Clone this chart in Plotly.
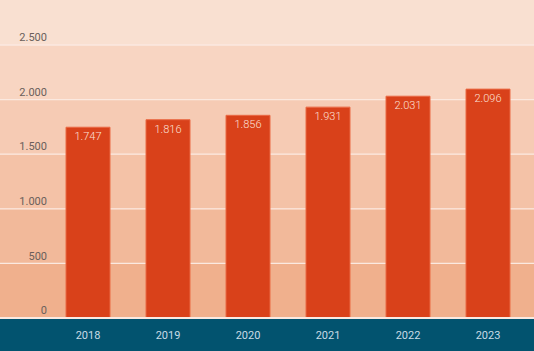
import plotly.graph_objects as go

years = ["2018", "2019", "2020", "2021", "2022", "2023"]
values = [1747, 1816, 1856, 1931, 2031, 2096]
tick_vals = [0, 500, 1000, 1500, 2000, 2500]
tick_text = ["0", "500", "1.000", "1.500", "2.000", "2.500"]
band_edges = [0, 500, 1000, 1500, 2000, 2500, 2912]
band_colors = ["#f0b08d", "#f2b99a", "#f4c2a7", "#f6cbb4", "#f8d5c2", "#f9e0d1"]

W, H = 534, 351
ml, mr, mt, mb = 48, 6, 0, 33
pw = W - ml - mr
x0p = -ml / pw
x1p = 1 + mr / pw

fig = go.Figure()
fig.add_trace(go.Bar(
    x=years, y=values,
    marker=dict(color="#d9411a", line=dict(color="#ea6a45", width=1)),
    width=0.55,
    text=[f"{v:,}".replace(",", ".") for v in values],
    textposition="inside", insidetextanchor="end",
    textfont=dict(family="Roboto", size=11, color="#fbe0d6", weight=300),
    cliponaxis=False,
))

shapes = []
for i, c in enumerate(band_colors):
    shapes.append(dict(type="rect", xref="paper", yref="y", x0=x0p, x1=x1p,
                       y0=band_edges[i], y1=band_edges[i + 1],
                       fillcolor=c, line=dict(width=0), layer="below"))
for t in tick_vals[1:]:
    shapes.append(dict(type="line", xref="paper", yref="y", x0=x0p, x1=x1p,
                       y0=t, y1=t, line=dict(color="#fbe9e0", width=1.3), layer="below"))
shapes.append(dict(type="rect", xref="paper", yref="paper", x0=x0p, x1=x1p,
                   y0=-mb / (H - mt - mb), y1=0, fillcolor="#02536f",
                   line=dict(width=0), layer="below"))
shapes.append(dict(type="line", xref="paper", yref="paper", x0=x0p, x1=x1p,
                   y0=0, y1=0, line=dict(color="#fbe9e0", width=2), layer="above"))

fig.update_layout(
    width=W, height=H,
    margin=dict(l=ml, r=mr, t=mt, b=mb),
    paper_bgcolor="#f9e0d1", plot_bgcolor="rgba(0,0,0,0)",
    shapes=shapes, showlegend=False, bargap=0.45,
    font=dict(family="Roboto"),
)
fig.update_xaxes(showgrid=False, zeroline=False, showline=False,
                 tickfont=dict(family="Roboto", size=11, color="#c8dce6"),
                 ticklabelstandoff=9)
fig.update_yaxes(range=[0, 2912], tickvals=tick_vals, ticktext=tick_text,
                 showgrid=False, zeroline=False, showline=False,
                 ticklabelposition="outside top",
                 tickfont=dict(family="Roboto", size=11, color="#6a5f5b"))

fig.write_html("out.html")
